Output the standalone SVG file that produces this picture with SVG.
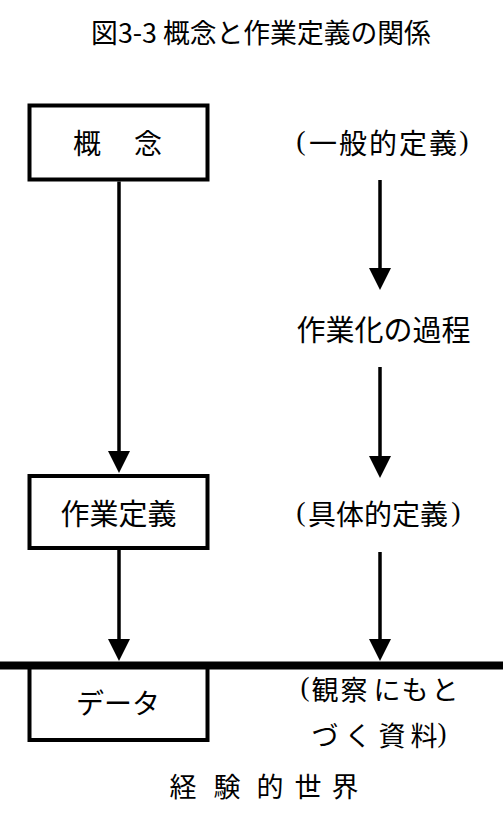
<svg xmlns="http://www.w3.org/2000/svg" width="503" height="818" viewBox="0 0 503 818">
<style>
.box{fill:#fff;stroke:#000;stroke-width:4}
.lbl{font-family:"Liberation Serif","Noto Sans CJK JP",serif;fill:#000;text-anchor:middle}
.title{font-family:"Noto Sans CJK JP","Noto Sans",sans-serif;font-size:26.8px;fill:#000;text-anchor:middle}
.conn{stroke:#000;stroke-width:3.5;fill:none;marker-end:url(#arr)}
</style>
<defs>
<marker id="arr" viewBox="0 0 22 22" markerWidth="22" markerHeight="22" refX="10" refY="11" markerUnits="userSpaceOnUse" orient="auto">
<path d="M0,0 L22,11 L0,22 z" fill="#000"/>
</marker>
</defs>
<rect width="503" height="818" fill="#fff"/>
<text id="title" class="title" x="261" y="42.5">図3-3 概念と作業定義の関係</text>
<g id="connectors">
<line class="conn" x1="119" y1="181.5" x2="119" y2="461"/>
<line class="conn" x1="119" y1="550" x2="119" y2="649"/>
<line class="conn" x1="380" y1="180" x2="380" y2="278"/>
<line class="conn" x1="380" y1="367" x2="380" y2="466"/>
<line class="conn" x1="380" y1="552" x2="380" y2="649"/>
</g>
<g id="node-gainen">
<rect class="box" x="29.5" y="105.5" width="178" height="74"/>
<text class="lbl" font-size="28" x="87 148" y="153.6">概念</text>
</g>
<g id="node-sagyoteigi">
<rect class="box" x="29.5" y="476" width="178" height="72"/>
<text class="lbl" font-size="29" x="118.5" y="525">作業定義</text>
</g>
<g id="node-data">
<rect class="box" x="29.5" y="664" width="178" height="76"/>
<text class="lbl" font-size="28" x="118" y="713.5">データ</text>
</g>
<g id="boundary">
<line x1="0" y1="665.5" x2="503" y2="665.5" stroke="#000" stroke-width="8"/>
</g>
<g id="node-ippan">
<text class="lbl" font-size="28" x="301 323 353 383 413 443 464" y="153.6"><tspan dy="-4">(</tspan><tspan dy="4">一般的定義</tspan><tspan dy="-4">)</tspan></text>
</g>
<g id="node-sagyoka">
<text class="lbl" font-size="29" x="383.5" y="341">作業化の過程</text>
</g>
<g id="node-gutai">
<text class="lbl" font-size="28" x="301 322 350 378 406 434 456" y="525"><tspan dy="-4">(</tspan><tspan dy="4">具体的定義</tspan><tspan dy="-4">)</tspan></text>
</g>
<g id="node-kansatsu">
<text class="lbl" font-size="27" x="305 325 354 387 415 445" y="699.5"><tspan dy="-4">(</tspan><tspan dy="4">観察にもと</tspan></text>
<text class="lbl" font-size="27" x="325 358 392 424 442" y="745.5">づく資料<tspan dy="-4">)</tspan></text>
</g>
<g id="node-keiken">
<text class="lbl" font-size="27" x="183 227 270 308 345" y="797">経験的世界</text>
</g>
</svg>
